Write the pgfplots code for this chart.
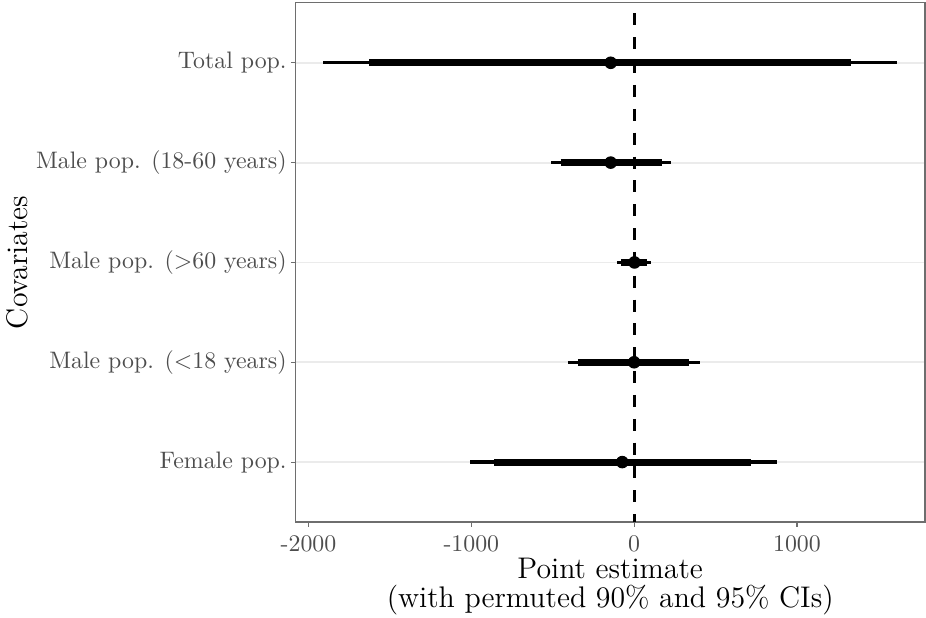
\documentclass[border=0pt]{standalone}
\usepackage{pgfplots}
\pgfplotsset{compat=1.18}
\definecolor{tickgray}{RGB}{77,77,77}
\definecolor{framegray}{RGB}{110,110,110}
\definecolor{gridgray}{RGB}{235,235,235}
\begin{document}
\begin{tikzpicture}
\begin{axis}[
    scale only axis,
    width=253.4pt,
    height=209pt,
    xmin=-2080, xmax=1786,
    ymin=0.4, ymax=5.6,
    axis line style={framegray, line width=0.48pt},
    tick pos=left,
    tick align=outside,
    major tick length=1.9pt,
    tick style={framegray, line width=0.48pt},
    xtick={-2000,-1000,0,1000},
    xticklabels={-2000,-1000,0,1000},
    ytick={1,2,3,4,5},
    yticklabels={Female pop., Male pop. (<18 years), Male pop. (>60 years), Male pop. (18-60 years), Total pop.},
    tick label style={font=\fontsize{9.6}{11}\selectfont, text=tickgray},
    yticklabel style={xshift=1.85pt},
    ymajorgrids,
    grid style={gridgray, line width=0.72pt},
    xlabel={Point estimate\\(with permuted 90\% and 95\% CIs)},
    ylabel={Covariates},
    every axis x label/.style={at={(axis description cs:0.5,0)}, anchor=north, yshift=-14.5pt, inner sep=0pt, align=center, font=\fontsize{12}{11.7}\selectfont},
    every axis y label/.style={at={([xshift=-111.9pt]axis description cs:0,0.5)}, rotate=90, anchor=center, inner sep=0pt, font=\fontsize{12}{14}\selectfont},
    clip=false,
]
% 95% intervals
\addplot[black, line width=1.33pt, unbounded coords=jump] coordinates {
    (-1008,1) (877,1) (nan,nan)
    (-407,2) (403,2) (nan,nan)
    (-106,3) (102,3) (nan,nan)
    (-509,4) (226,4) (nan,nan)
    (-1908,5) (1613,5)
};
% 90% intervals
\addplot[black, line width=2.74pt, unbounded coords=jump] coordinates {
    (-859,1) (720,1) (nan,nan)
    (-345,2) (337,2) (nan,nan)
    (-79,3) (77,3) (nan,nan)
    (-451,4) (170,4) (nan,nan)
    (-1626,5) (1331,5)
};
% point estimates
\addplot[black, only marks, mark=*, mark size=2.33pt] coordinates {
    (-73,1) (0,2) (2,3) (-144,4) (-144,5)
};
% zero line
\addplot[black, line width=1.29pt, dash pattern=on 4.83pt off 4.77pt, dash phase=5.35pt] coordinates {
    (0,5.6) (0,0.4)
};
\end{axis}
\pgfresetboundingbox
\path (-118.97pt,-38.65pt) rectangle (253.84pt,210.16pt);
\end{tikzpicture}
\end{document}
